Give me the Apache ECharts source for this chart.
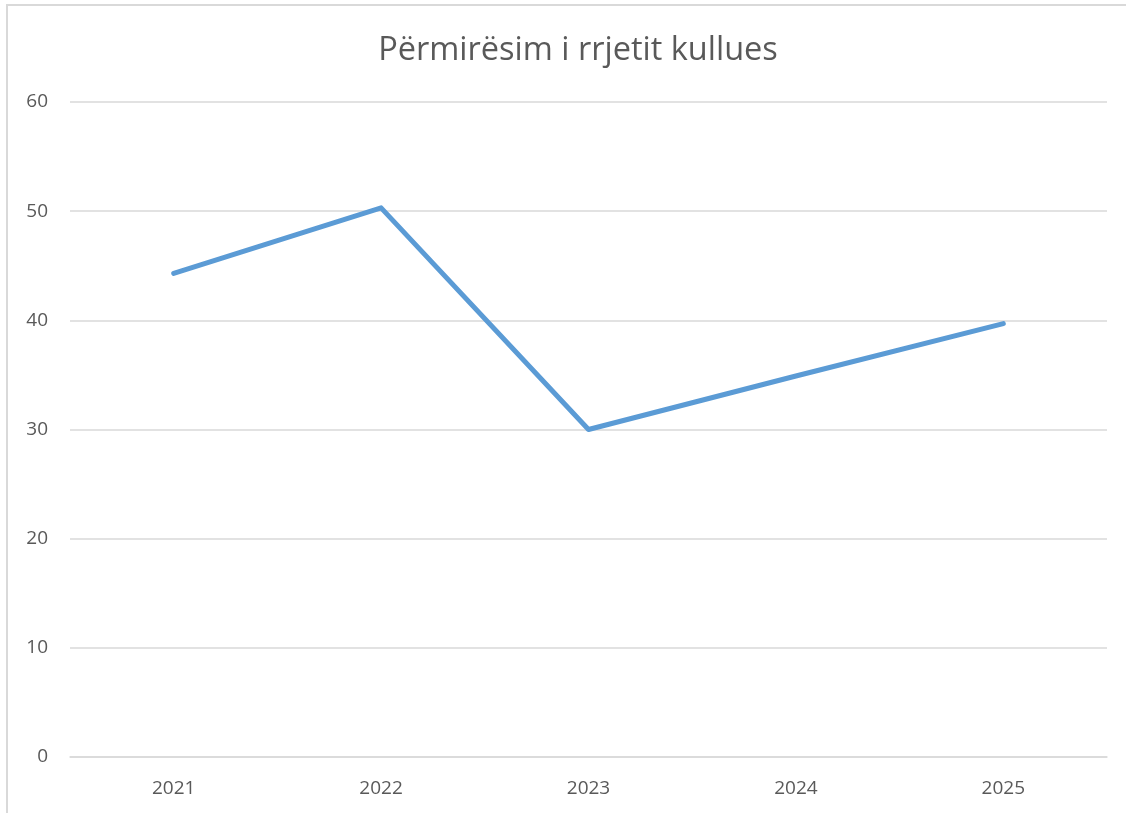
<!DOCTYPE html>
<html>
<head>
<meta charset="utf-8">
<script src="https://cdn.jsdelivr.net/npm/echarts@6/dist/echarts.min.js"></script>
<style>
  html, body { margin: 0; padding: 0; background: #fff; overflow: hidden; }
  #frame {
    position: absolute; left: 6px; top: 4px; width: 1200px; height: 900px;
    border-top: 2px solid #d9d9d9; border-left: 2px solid #d9d9d9;
  }
  #chart { position: absolute; left: 0; top: 0; width: 1126px; height: 813px; }
</style>
</head>
<body>
<div id="frame"></div>
<div id="chart"></div>
<script>
// Të dhënat
const years = ['2021', '2022', '2023', '2024', '2025']
const values = [44.3, 50.3, 30.0, 34.9, 39.7]
const yTicks = { min: 0, max: 60, interval: 10 }

const chart = echarts.init(document.getElementById('chart'))
const labelFont = { color: '#595959', fontSize: 19, fontFamily: 'Open Sans, Liberation Sans, sans-serif' }

chart.setOption({
  animation: false,
  title: {
    text: 'Përmirësim i rrjetit kullues',
    left: 573,
    top: 29,
    textAlign: 'center',
    textStyle: { color: '#595959', fontSize: 32.5, fontWeight: 'normal', fontFamily: 'Open Sans, Liberation Sans, sans-serif' }
  },
  grid: { left: 70, right: 19, top: 102, bottom: 56 },
  xAxis: {
    type: 'category',
    data: years,
    boundaryGap: true,
    axisLine: { lineStyle: { color: '#d9d9d9', width: 1.5 } },
    axisTick: { show: false },
    axisLabel: Object.assign({ margin: 22 }, labelFont)
  },
  yAxis: {
    type: 'value',
    min: yTicks.min,
    max: yTicks.max,
    interval: yTicks.interval,
    axisLine: { show: false },
    axisTick: { show: false },
    splitLine: { lineStyle: { color: '#d9d9d9', width: 1.5 } },
    axisLabel: Object.assign({ margin: 22 }, labelFont)
  },
  series: [{
    type: 'line',
    data: values,
    symbol: 'none',
    lineStyle: { color: '#5b9bd5', width: 5, cap: 'round', join: 'round' }
  }]
})
</script>
</body>
</html>
